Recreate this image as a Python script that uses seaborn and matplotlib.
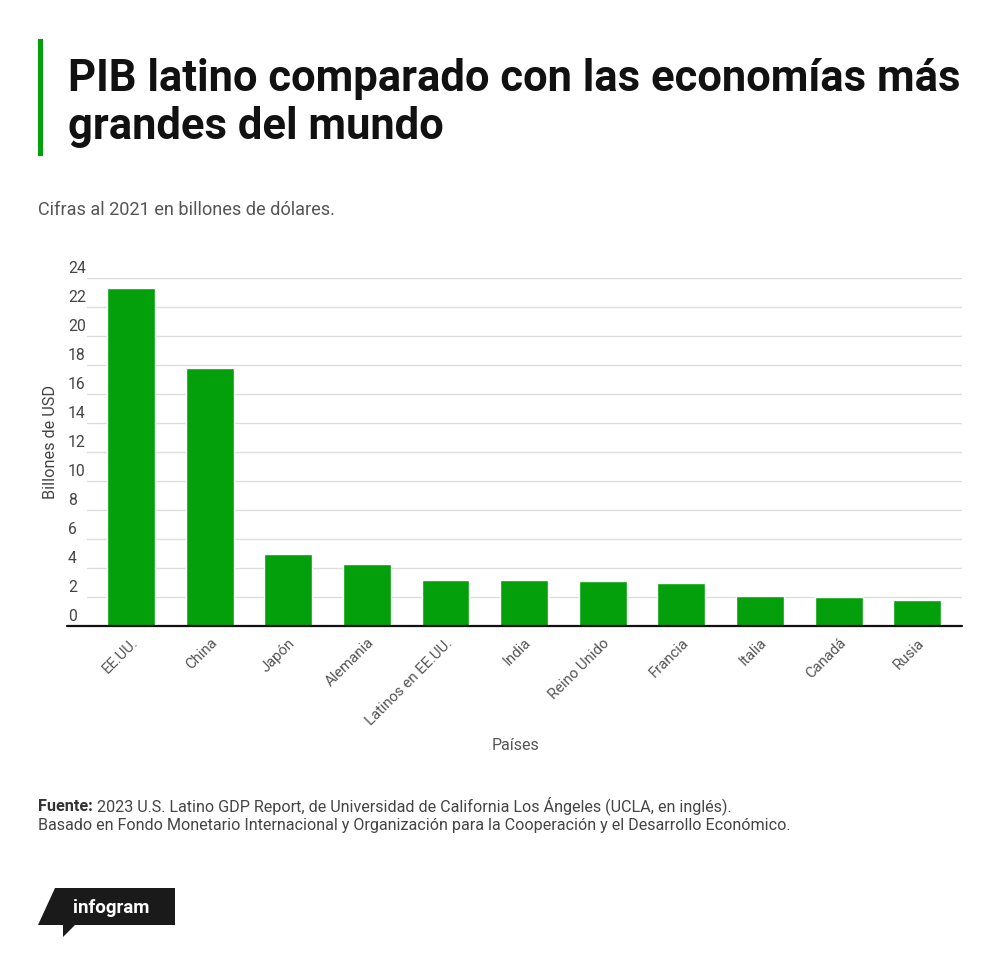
import matplotlib
matplotlib.use("Agg")
import matplotlib.pyplot as plt
import matplotlib.transforms as mtransforms
from matplotlib.patches import Polygon, Rectangle
import seaborn as sns
import pandas as pd

# ---- data ----
countries = ["EE.UU.", "China", "Japón", "Alemania", "Latinos en EE.UU.", "India",
             "Reino Unido", "Francia", "Italia", "Canadá", "Rusia"]
gdp = [23.3, 17.8, 5.0, 4.3, 3.2, 3.15, 3.13, 2.96, 2.1, 2.0, 1.8]
yticks = [0, 2, 4, 6, 8, 10, 12, 14, 16, 18, 20, 22, 24]

title_lines = ["PIB latino comparado con las economías más", "grandes del mundo"]
subtitle = "Cifras al 2021 en billones de dólares."
source_bold = "Fuente:"
source_line1 = " 2023 U.S. Latino GDP Report, de Universidad de California Los Ángeles (UCLA, en inglés)."
source_line2 = "Basado en Fondo Monetario Internacional y Organización para la Cooperación y el Desarrollo Económico."

GREEN = "#04a00b"
W, H = 1000, 957

sns.set_theme(style="white")
plt.rcParams["font.family"] = ["Roboto", "DejaVu Sans"]

fig = plt.figure(figsize=(W / 100, H / 100), dpi=100)
fig.patch.set_facecolor("white")

def fx(px):
    return px / W

def fy(py):
    return (H - py) / H

ax_left, ax_right, ax_top, ax_bottom = 87, 962, 278, 626
ax = fig.add_axes([fx(ax_left), fy(ax_bottom), fx(ax_right - ax_left), (ax_bottom - ax_top) / H])

df = pd.DataFrame({"País": countries, "PIB": gdp})
sns.barplot(data=df, x="País", y="PIB", color=GREEN, saturation=1, width=0.61, ax=ax, zorder=3)

ax.set_xlim(-0.56, 10.57)
ax.set_ylim(0, 24)
for s in ax.spines.values():
    s.set_visible(False)

# gridlines
ax.set_yticks(yticks)
ax.yaxis.grid(True, color="#dddddd", linewidth=1.0, zorder=0)
ax.xaxis.grid(False)
ax.set_axisbelow(True)

# baseline extends left past grid
ax.axhline(0, xmin=(67 - ax_left) / (ax_right - ax_left), xmax=1, color="#111111",
           linewidth=1.6, clip_on=False, zorder=5)

# y tick labels: left aligned, sitting above the gridline
ax.tick_params(axis="y", length=0, pad=(ax_left - 68) * 0.72, labelsize=11.3, labelcolor="#444444")
ax.set_yticklabels([str(v) for v in yticks])
offset = mtransforms.ScaledTranslation(0, 1.5 / 72, fig.dpi_scale_trans)
for lab in ax.get_yticklabels():
    lab.set_horizontalalignment("left")
    lab.set_verticalalignment("bottom")
    lab.set_transform(lab.get_transform() + offset)

# x tick labels
ax.tick_params(axis="x", length=0, pad=7, labelsize=10.7, labelcolor="#555555")
for lab in ax.get_xticklabels():
    lab.set_rotation(45)
    lab.set_horizontalalignment("right")
    lab.set_rotation_mode("anchor")

ax.set_xlabel("Países", fontsize=11.5, color="#555555", labelpad=0)
ax.xaxis.set_label_coords(0.49, -(745 - ax_bottom) / (ax_bottom - ax_top))
ax.xaxis.label.set_verticalalignment("center")
ax.set_ylabel("Billones de USD", fontsize=11.7, color="#444444")
ax.yaxis.set_label_coords(-(ax_left - 58) / (ax_right - ax_left), (ax_bottom - 442) / (ax_bottom - ax_top))

# ---- title block ----
fig.patches.append(Rectangle((fx(38), fy(156)), fx(5), (156 - 39) / H, transform=fig.transFigure,
                             facecolor=GREEN, edgecolor="none"))

renderer = fig.canvas.get_renderer()

def fit(t, target_px):
    fs = t.get_fontsize()
    w = t.get_window_extent(renderer=renderer).width
    t.set_fontsize(fs * target_px / w)

t1 = fig.text(fx(68), fy(91), title_lines[0], fontsize=28, fontweight="bold", color="#111111",
              va="baseline", ha="left")
fit(t1, 890)
t2 = fig.text(fx(68), fy(139), title_lines[1], fontsize=t1.get_fontsize(), fontweight="bold",
              color="#111111", va="baseline", ha="left")

st = fig.text(fx(38), fy(215), subtitle, fontsize=11, color="#555555", va="baseline", ha="left")
fit(st, 297)

# ---- source ----
s2 = fig.text(fx(38), fy(830), source_line2, fontsize=11.5, color="#444444",
              va="baseline", ha="left")
fit(s2, 755)
sfs = s2.get_fontsize()
sb = fig.text(fx(38), fy(811), source_bold, fontsize=sfs, fontweight="bold", color="#333333",
              va="baseline", ha="left")
bb = sb.get_window_extent(renderer=renderer)
s1 = fig.text(bb.x1 / W, fy(811), source_line1, fontsize=sfs, color="#444444",
              va="baseline", ha="left")

# ---- infogram logo ----
logo_pts = [(55, 888), (175, 888), (175, 925), (75, 925), (63, 937), (63, 925), (38, 925)]
fig.patches.append(Polygon([(fx(x), fy(y)) for x, y in logo_pts], closed=True,
                           transform=fig.transFigure, facecolor="#1a1a1a", edgecolor="none"))
lg = fig.text(fx(73), fy(913), "infogram", fontsize=12.5, fontweight="bold", color="white",
              va="baseline", ha="left")
fit(lg, 77)

fig.savefig("out.png", dpi=100, facecolor="white")
